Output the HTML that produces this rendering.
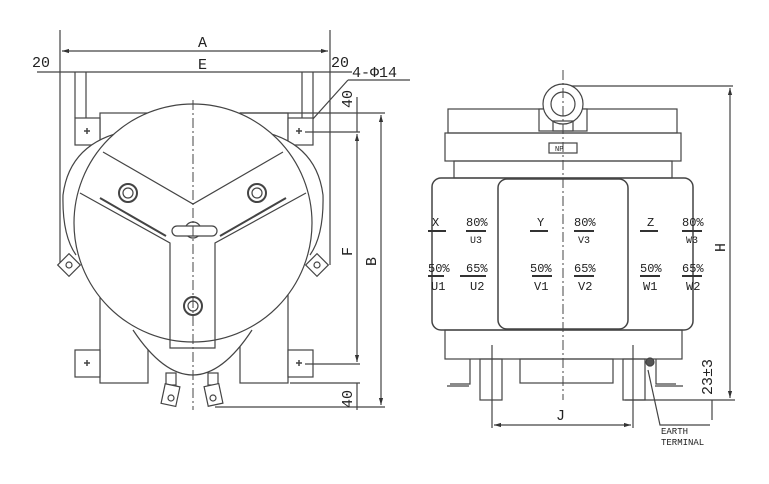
<!DOCTYPE html>
<html><head><meta charset="utf-8"><style>
html,body{margin:0;padding:0;background:#fff;}
svg{display:block;}
text{font-family:"Liberation Mono","DejaVu Sans Mono",monospace;fill:#222;}
</style></head><body>
<svg width="769" height="484" viewBox="0 0 769 484" xmlns="http://www.w3.org/2000/svg">
<defs>
<marker id="ar" viewBox="0 0 10 10" refX="10" refY="5" markerWidth="6" markerHeight="6" orient="auto-start-reverse"><path d="M0,2 L10,5 L0,8 z" fill="#333"/></marker>
</defs>
<g fill="none" stroke="#444" stroke-width="1.2">
<line x1="60" y1="30" x2="60" y2="265"/>
<line x1="330" y1="30" x2="330" y2="265"/>
<line x1="62" y1="51" x2="328" y2="51" marker-start="url(#ar)" marker-end="url(#ar)"/>
<line x1="37" y1="72" x2="352" y2="72"/>
<line x1="75" y1="72" x2="75" y2="118"/>
<line x1="86" y1="72" x2="86" y2="132"/>
<line x1="302" y1="72" x2="302" y2="132"/>
<line x1="313" y1="72" x2="313" y2="118"/>
<line x1="348" y1="80" x2="303" y2="130" marker-end="url(#ar)"/>
<line x1="348" y1="80" x2="410" y2="80"/>
<rect x="100" y="113" width="48" height="270"/>
<rect x="240" y="113" width="48" height="270"/>
<rect x="75" y="118" width="25" height="27" fill="#fff"/>
<rect x="288" y="118" width="25" height="27" fill="#fff"/>
<rect x="75" y="350" width="25" height="27" fill="#fff"/>
<rect x="288" y="350" width="25" height="27" fill="#fff"/>
<!-- back shape bulges -->
<path d="M132,130 Q70,140 63,195 Q62,235 76,255" fill="#fff"/>
<path d="M254,130 Q316,140 323,195 Q324,235 310,255" fill="#fff"/>
<path d="M133,330 Q193,420 252,330" fill="#fff"/>
<rect x="61" y="257" width="16" height="16" transform="rotate(45 69 265)" fill="#fff"/>
<rect x="309" y="257" width="16" height="16" transform="rotate(45 317 265)" fill="#fff"/>
<circle cx="69" cy="265" r="3"/><circle cx="317" cy="265" r="3"/>
<rect x="166" y="373" width="10" height="12" fill="#fff"/><rect x="208" y="373" width="10" height="12" fill="#fff"/>
<rect x="163" y="385" width="15" height="20" transform="rotate(12 170 395)" fill="#fff"/>
<rect x="206" y="385" width="15" height="20" transform="rotate(-12 213 395)" fill="#fff"/>
<circle cx="171" cy="398" r="3"/><circle cx="213" cy="398" r="3"/>
<circle cx="193" cy="223" r="119" fill="#fff"/>
<path d="M103,152 L193,204 L283,152"/>
<path d="M80,193 L170,243 L170,348 L215,348 L215,243 L306,193"/>
<path d="M100,198 L166,236 M286,198 L220,236" stroke-width="2"/>
<circle cx="128" cy="193" r="9" stroke-width="2"/><circle cx="128" cy="193" r="5"/>
<circle cx="257" cy="193" r="9" stroke-width="2"/><circle cx="257" cy="193" r="5"/>
<circle cx="193" cy="306" r="9" stroke-width="2"/><circle cx="193" cy="306" r="5"/>
<circle cx="193" cy="230" r="8"/>
<rect x="172" y="226" width="45" height="10" rx="5" fill="#fff"/>
<g stroke-width="1.5"><path d="M84,131h6M87,128v6M296,131h6M299,128v6M84,363h6M87,360v6M296,363h6M299,360v6"/></g>
<line x1="240" y1="113" x2="385" y2="113"/>
<line x1="305" y1="132" x2="360" y2="132"/>
<line x1="305" y1="364" x2="360" y2="364"/>
<line x1="290" y1="383" x2="360" y2="383"/>
<line x1="215" y1="407" x2="385" y2="407"/>
<line x1="357" y1="97" x2="357" y2="132" />
<line x1="357" y1="134" x2="357" y2="362" marker-start="url(#ar)" marker-end="url(#ar)"/>
<line x1="357" y1="383" x2="357" y2="410"/>
<line x1="381" y1="115" x2="381" y2="405" marker-start="url(#ar)" marker-end="url(#ar)"/>
<line x1="193" y1="100" x2="193" y2="410" stroke-dasharray="10,3,2,3" stroke-width="1"/>

<line x1="563" y1="86" x2="733" y2="86"/>
<line x1="730" y1="88" x2="730" y2="398" marker-start="url(#ar)" marker-end="url(#ar)"/>
<line x1="625" y1="400" x2="735" y2="400"/>
<line x1="712" y1="400" x2="712" y2="420"/>
<rect x="448" y="109" width="229" height="24"/>
<rect x="539" y="109" width="48" height="22" fill="#fff"/>
<circle cx="563" cy="104" r="20" fill="#fff"/>
<circle cx="563" cy="104" r="12"/>
<rect x="553" y="121" width="20" height="10"/>
<rect x="445" y="133" width="236" height="28"/>
<rect x="549" y="143" width="28" height="10"/>
<rect x="454" y="161" width="218" height="17"/>
<rect x="432" y="178" width="261" height="152" rx="9" stroke-width="1.5"/>
<rect x="498" y="179" width="130" height="150" rx="9" stroke-width="1.5"/>
<rect x="445" y="330" width="237" height="29"/>
<rect x="520" y="359" width="93" height="24"/>
<path d="M470,359 v25 h-20 M447,386 h22" />
<rect x="480" y="359" width="22" height="41"/>
<rect x="623" y="359" width="22" height="41"/>
<path d="M656,359 v25 h20 M655,386 h28"/>
<circle cx="650" cy="362" r="4" fill="#555"/>
<path d="M648,370 L660,425 L710,425"/>
<line x1="492" y1="345" x2="492" y2="428"/>
<line x1="633" y1="345" x2="633" y2="428"/>
<line x1="494" y1="425" x2="631" y2="425" marker-start="url(#ar)" marker-end="url(#ar)"/>
<line x1="563" y1="70" x2="563" y2="400" stroke-dasharray="10,3,2,3" stroke-width="1"/>
<g stroke="#333" stroke-width="2">
<path d="M428,231h18M466,231h20M460,276h16M466,276h20M530,231h18M574,231h20M532,276h20M574,276h20M640,231h18M682,231h20M640,276h20M682,276h20M428,276h16"/>
</g>
</g>
<g font-size="15">
<text x="198" y="47">A</text>
<text x="198" y="69">E</text>
<text x="32" y="67">20</text>
<text x="331" y="67">20</text>
<text x="352" y="77">4-Φ14</text>
<text transform="translate(352,108) rotate(-90)">40</text>
<text transform="translate(352,256) rotate(-90)">F</text>
<text transform="translate(376,266) rotate(-90)">B</text>
<text transform="translate(352,408) rotate(-90)">40</text>
<text transform="translate(725,252) rotate(-90)">H</text>
<text transform="translate(712,395) rotate(-90)">23±3</text>
<text x="556" y="420">J</text>
</g>
<g font-size="12">
<text x="432" y="226">X</text><text x="466" y="226">80%</text><text x="470" y="243" font-size="10">U3</text>
<text x="428" y="272">50%</text><text x="466" y="272">65%</text><text x="431" y="290">U1</text><text x="470" y="290">U2</text>
<text x="537" y="226">Y</text><text x="574" y="226">80%</text><text x="578" y="243" font-size="10">V3</text>
<text x="530" y="272">50%</text><text x="574" y="272">65%</text><text x="534" y="290">V1</text><text x="578" y="290">V2</text>
<text x="647" y="226">Z</text><text x="682" y="226">80%</text><text x="686" y="243" font-size="10">W3</text>
<text x="640" y="272">50%</text><text x="682" y="272">65%</text><text x="643" y="290">W1</text><text x="686" y="290">W2</text>
</g>
<text x="555" y="151" font-size="7">NP</text>
<text x="661" y="434" font-size="9">EARTH</text>
<text x="661" y="445" font-size="9">TERMINAL</text>
</svg>
</body></html>
